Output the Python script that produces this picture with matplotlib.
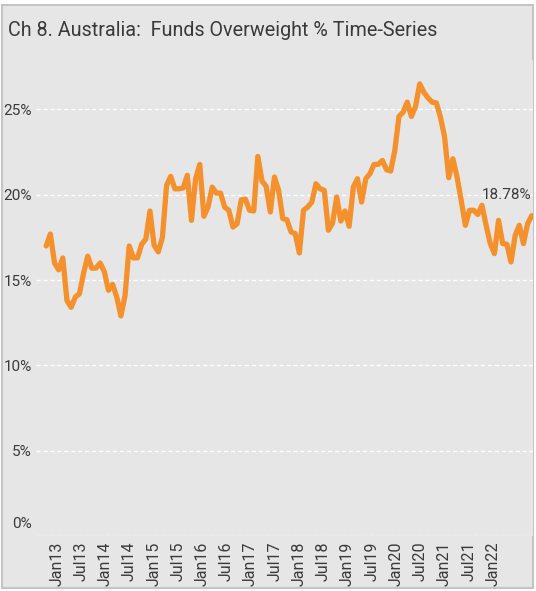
import matplotlib.pyplot as plt
import matplotlib.transforms as mtransforms
from matplotlib.patches import Rectangle
import numpy as np

title = "Ch 8. Australia:  Funds Overweight % Time-Series"

# funds overweight %, one value per period, Nov12 .. end
overweight = [17.0, 17.7, 16.0, 15.6, 16.3, 13.8, 13.4, 14.0, 14.2, 15.4,
              16.4, 15.7, 15.7, 16.0, 15.5, 14.4, 14.75, 14.0, 12.9, 14.1,
              17.0, 16.3, 16.3, 17.1, 17.4, 19.05, 17.04, 16.65, 17.5, 20.55,
              21.08, 20.35, 20.35, 20.4, 21.14, 18.5, 20.94, 21.78, 18.74, 19.28,
              20.45, 20.1, 20.1, 19.28, 19.09, 18.11, 18.3, 19.7, 19.74, 19.09,
              19.05, 22.25, 20.8, 20.5, 18.99, 21.04, 20.26, 18.6, 18.54, 17.82,
              17.72, 16.59, 19.09, 19.28, 19.57, 20.65, 20.35, 20.26, 17.92, 18.34,
              19.87, 18.46, 19.05, 18.15, 20.45, 20.94, 19.57, 20.94, 21.23, 21.78,
              21.78, 22.01, 21.47, 21.39, 22.6, 24.59, 24.84, 25.43, 24.59, 25.18,
              26.5, 26.01, 25.68, 25.43, 25.39, 24.55, 23.38, 21.0, 22.11, 21.04,
              19.67, 18.21, 19.09, 19.09, 18.85, 19.38, 18.21, 17.14, 16.55, 18.5,
              17.14, 17.1, 16.06, 17.62, 18.21, 17.14, 18.31, 18.78]

x_labels = ["Jan13", "Jul13", "Jan14", "Jul14", "Jan15", "Jul15", "Jan16",
            "Jul16", "Jan17", "Jul17", "Jan18", "Jul18", "Jan19", "Jul19",
            "Jan20", "Jul20", "Jan21", "Jul21", "Jan22"]
y_ticks = [0, 5, 10, 15, 20, 25]
last_label = "18.78%"

bg = "#e6e6e6"
orange = "#f4912d"
txt = "#3a3a3a"

plt.rcParams['font.family'] = ['Roboto', 'DejaVu Sans']

fig = plt.figure(figsize=(5.36, 5.91), dpi=100)
fig.patch.set_facecolor("white")
# panel with grey border, behind the axes
fig.patches.append(Rectangle((2/536, 3/591), 531/536, 583/591,
                             transform=fig.transFigure, facecolor=bg,
                             edgecolor="#c4c4c4", lw=1.5, zorder=-10))

ax = fig.add_axes([36/536, 1 - 536/591, 497/536, 476/591])
ax.set_facecolor(bg)
for s in ax.spines.values():
    s.set_visible(False)

x = np.arange(len(overweight))
ax.plot(x, overweight, color=orange, lw=3.8, solid_joinstyle="round",
        solid_capstyle="round", zorder=3)

ax.set_xlim(-2.46, len(overweight) - 1 + 0.3)
ax.set_ylim(0, 27.9)

ax.set_yticks(y_ticks)
ax.set_yticklabels([f"{v}%" for v in y_ticks])
ax.yaxis.grid(True, color="white", ls=(0, (3, 2)), lw=1)
ax.set_axisbelow(True)

tick_pos = 2.53 + 5.84 * np.arange(len(x_labels))
ax.set_xticks(tick_pos)
ax.set_xticklabels(x_labels, rotation=90)
ax.tick_params(axis="both", length=0, colors=txt, labelsize=11)
ax.tick_params(axis="x", pad=4, labelsize=11.5)
ax.tick_params(axis="y", pad=3)

# 0% label sits above its line
lab0 = ax.get_yticklabels()[0]
lab0.set_transform(lab0.get_transform() +
                   mtransforms.ScaledTranslation(0, 0.13, fig.dpi_scale_trans))

ax.annotate(last_label, (x[-1], overweight[-1]), xytext=(0, 14.5),
            textcoords="offset points", ha="right", va="center",
            fontsize=11, color=txt)

fig.text(8/536, 1 - 30/591, title, ha="left", va="center",
         fontsize=14.2, color=txt)

plt.savefig("out.png", dpi=100, facecolor=fig.get_facecolor())
